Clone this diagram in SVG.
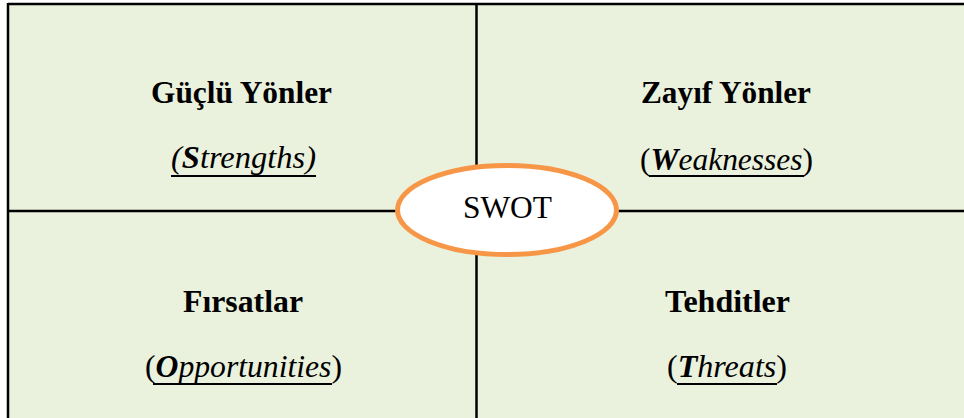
<svg xmlns="http://www.w3.org/2000/svg" width="964" height="418" viewBox="0 0 964 418">
<style>
.h{font-family:"Liberation Serif","Times New Roman",serif;font-size:31px;font-weight:bold;fill:#000;text-anchor:middle}
.s{font-family:"Liberation Serif","Times New Roman",serif;font-size:31px;fill:#000;text-anchor:middle}
.i{font-style:italic}
.b{font-weight:bold}
.grid{stroke:#000;stroke-width:2.5;fill:none}
.ul{stroke:#000;stroke-width:2}
</style>
<rect x="8" y="4" width="970" height="420" fill="#EAF1DD"/>
<g id="grid">
<line class="grid" x1="8" y1="4" x2="964" y2="4"/>
<line class="grid" x1="8" y1="3" x2="8" y2="418"/>
<line class="grid" x1="476.5" y1="4" x2="476.5" y2="418"/>
<line class="grid" x1="8" y1="211" x2="964" y2="211"/>
</g>
<g id="strengths">
<text class="h" x="241.5" y="103" textLength="181" lengthAdjust="spacingAndGlyphs">Güçlü Yönler</text>
<text class="s i" x="243.5" y="168" textLength="145" lengthAdjust="spacingAndGlyphs">(<tspan class="b">S</tspan>trengths)</text>
<line class="ul" x1="171" y1="176" x2="316" y2="176"/>
</g>
<g id="weaknesses">
<text class="h" x="726" y="103" textLength="170" lengthAdjust="spacingAndGlyphs">Zayıf Yönler</text>
<text class="s" x="726.5" y="170" textLength="173" lengthAdjust="spacingAndGlyphs">(<tspan class="i b">W</tspan><tspan class="i">eaknesses</tspan>)</text>
<line class="ul" x1="649" y1="176" x2="804" y2="176"/>
</g>
<g id="opportunities">
<text class="h" x="243" y="312" textLength="120" lengthAdjust="spacingAndGlyphs">Fırsatlar</text>
<text class="s" x="243.5" y="377" textLength="197" lengthAdjust="spacingAndGlyphs">(<tspan class="i b">O</tspan><tspan class="i">pportunities</tspan>)</text>
<line class="ul" x1="153" y1="384" x2="332" y2="384"/>
</g>
<g id="threats">
<text class="h" x="727.5" y="312" textLength="125" lengthAdjust="spacingAndGlyphs">Tehditler</text>
<text class="s" x="727" y="377" textLength="120" lengthAdjust="spacingAndGlyphs">(<tspan class="i b">T</tspan><tspan class="i">hreats</tspan>)</text>
<line class="ul" x1="677" y1="384" x2="777" y2="384"/>
</g>
<g id="swot">
<ellipse cx="507" cy="210" rx="109.5" ry="44.5" fill="#FFFFFF" stroke="#F79646" stroke-width="5"/>
<text class="s" x="507.5" y="218" style="font-size:32px" textLength="89" lengthAdjust="spacingAndGlyphs">SWOT</text>
</g>
</svg>
